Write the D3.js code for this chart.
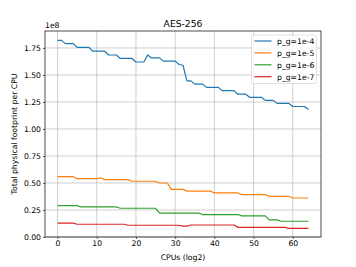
<!DOCTYPE html>
<html><head><meta charset="utf-8">
<script src="https://cdn.jsdelivr.net/npm/d3@7"></script>
<style>body{margin:0;background:#fff}svg{display:block;font-family:"DejaVu Sans",sans-serif}</style>
</head><body>
<svg id="c" width="356" height="267"></svg>
<script>
const title = "AES-256";
const xLabel = "CPUs (log2)";
const yLabel = "Total physical footprint per CPU";
const seriesNames = ["p_g=1e-4","p_g=1e-5","p_g=1e-6","p_g=1e-7"];
const colors = ["#1f77b4","#ff7f0e","#2ca02c","#d62728"];
const xTicks = [0,10,20,30,40,50,60];
const yTicks = [0,0.25e8,0.5e8,0.75e8,1e8,1.25e8,1.5e8,1.75e8];
const cpus = d3.range(0,65);
// values (units of 1e8)
const s1 = [1.82,1.82,1.79,1.79,1.79,1.755,1.755,1.755,1.755,1.72,1.72,1.72,1.72,1.685,1.685,1.685,
  1.653,1.653,1.653,1.653,1.62,1.62,1.62,1.685,1.658,1.658,1.658,1.628,1.628,1.628,1.628,1.597,1.59,
  1.445,1.445,1.415,1.415,1.415,1.385,1.385,1.385,1.385,1.355,1.355,1.355,1.355,1.322,1.322,1.322,
  1.293,1.293,1.293,1.293,1.265,1.265,1.265,1.237,1.237,1.237,1.237,1.208,1.208,1.208,1.208,1.18];
const s2 = [0.558,0.558,0.558,0.558,0.558,0.54,0.54,0.54,0.54,0.54,0.54,0.548,0.531,0.531,0.531,0.531,
  0.531,0.531,0.531,0.516,0.516,0.516,0.516,0.516,0.516,0.516,0.50,0.50,0.50,0.441,0.441,0.441,0.441,
  0.425,0.425,0.425,0.425,0.425,0.425,0.425,0.408,0.408,0.408,0.408,0.408,0.408,0.408,0.392,0.392,
  0.392,0.392,0.392,0.392,0.392,0.377,0.377,0.377,0.377,0.377,0.377,0.361,0.361,0.361,0.361,0.361];
const s3 = [0.29,0.29,0.29,0.29,0.29,0.29,0.278,0.278,0.278,0.278,0.278,0.278,0.278,0.278,0.278,0.278,
  0.266,0.266,0.266,0.266,0.266,0.266,0.266,0.266,0.266,0.266,0.221,0.221,0.221,0.221,0.221,0.221,
  0.221,0.221,0.221,0.221,0.221,0.208,0.208,0.208,0.208,0.208,0.208,0.208,0.208,0.208,0.208,0.196,
  0.196,0.196,0.196,0.196,0.196,0.196,0.159,0.159,0.159,0.146,0.146,0.146,0.146,0.146,0.146,0.146,0.146];
const s4 = [0.128,0.128,0.128,0.128,0.128,0.118,0.118,0.118,0.118,0.118,0.118,0.118,0.118,0.118,0.118,
  0.118,0.118,0.118,0.109,0.109,0.109,0.109,0.109,0.109,0.109,0.109,0.109,0.109,0.109,0.109,0.109,
  0.109,0.1,0.1,0.111,0.111,0.111,0.111,0.111,0.111,0.111,0.111,0.111,0.111,0.111,0.111,0.089,0.089,
  0.089,0.089,0.089,0.089,0.089,0.089,0.089,0.089,0.089,0.089,0.089,0.08,0.08,0.08,0.08,0.08,0.08];
const seriesValues = [s1,s2,s3,s4];

const svg = d3.select("#c");
const L=45, R=321, T=31, B=237;
const x = d3.scaleLinear().domain([-3.2,67.2]).range([L,R]);
const y = d3.scaleLinear().domain([0,1.907e8]).range([B,T]);
const fs = 7.7;

// grid
const g = svg.append("g");
g.selectAll(".vx").data(xTicks).join("line").attr("x1",d=>x(d)).attr("x2",d=>x(d))
  .attr("y1",T).attr("y2",B).attr("stroke","#b0b0b0").attr("stroke-width",0.6);
g.selectAll(".hy").data(yTicks).join("line").attr("y1",d=>y(d)).attr("y2",d=>y(d))
  .attr("x1",L).attr("x2",R).attr("stroke","#b0b0b0").attr("stroke-width",0.6);

// axes
const xa = svg.append("g").attr("transform",`translate(0,${B})`)
  .call(d3.axisBottom(x).tickValues(xTicks).tickSize(2).tickPadding(2).tickFormat(d3.format("d")));
const ya = svg.append("g").attr("transform",`translate(${L},0)`)
  .call(d3.axisLeft(y).tickValues(yTicks).tickSize(2).tickPadding(2).tickFormat(d=>(d/1e8).toFixed(2)));
[xa,ya].forEach(a=>{a.select(".domain").remove();a.selectAll("text").attr("font-size",fs).attr("fill","#000")
  .attr("font-family","DejaVu Sans");a.selectAll("line").attr("stroke","#000").attr("stroke-width",0.6);});

// lines
const line = d3.line().x((d,i)=>x(cpus[i])).y(d=>y(d*1e8));
seriesValues.forEach((s,k)=>{
  svg.append("path").attr("d",line(s)).attr("fill","none").attr("stroke",colors[k]).attr("stroke-width",1.2)
    .attr("stroke-linejoin","round");
});

// spines
svg.append("rect").attr("x",L).attr("y",T).attr("width",R-L).attr("height",B-T)
  .attr("fill","none").attr("stroke","#000").attr("stroke-width",0.7);

// texts
svg.append("text").attr("x",(L+R)/2).attr("y",27).attr("text-anchor","middle").attr("font-size",9.2).text(title);
svg.append("text").attr("x",L).attr("y",28).attr("font-size",fs).text("1e8");
svg.append("text").attr("x",(L+R)/2).attr("y",260).attr("text-anchor","middle").attr("font-size",fs).text(xLabel);
svg.append("text").attr("transform",`translate(17,${(T+B)/2}) rotate(-90)`).attr("text-anchor","middle")
  .attr("font-size",fs).text(yLabel);

// legend
const lg = svg.append("g");
lg.append("rect").attr("x",251.5).attr("y",35).attr("width",65).attr("height",48.5).attr("rx",2)
  .attr("fill","#fff").attr("fill-opacity",0.8).attr("stroke","#ccc").attr("stroke-width",0.6);
seriesNames.forEach((n,k)=>{
  const yy = 41 + k*11.9;
  lg.append("line").attr("x1",254.5).attr("x2",271.5).attr("y1",yy).attr("y2",yy)
    .attr("stroke",colors[k]).attr("stroke-width",1.2);
  lg.append("text").attr("x",277).attr("y",yy+2.8).attr("font-size",fs).text(n);
});
</script>
</body></html>
